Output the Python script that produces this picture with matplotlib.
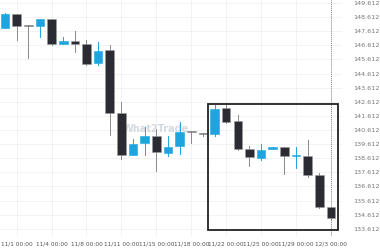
import matplotlib
matplotlib.use("Agg")
import matplotlib.pyplot as plt
from matplotlib.patches import Rectangle

opens = [147.83, 148.81, 148.05, 147.98, 148.45, 146.72, 146.89, 146.72, 145.37, 146.27,
         141.81, 138.87, 139.68, 140.15, 139.01, 139.51, 140.51, 140.40, 140.34, 142.18,
         141.22, 139.28, 138.61, 139.23, 139.44, 138.77, 138.80, 137.43, 135.17]
highs = [148.90, 148.83, 148.05, 148.47, 148.47, 147.22, 147.62, 146.98, 146.82, 146.63,
         142.57, 139.96, 140.79, 140.65, 140.15, 141.15, 140.51, 140.40, 142.36, 142.36,
         141.70, 139.51, 139.63, 139.44, 139.44, 139.41, 139.91, 137.57, 135.17]
lows = [147.83, 146.98, 145.70, 147.19, 146.63, 146.72, 146.13, 145.20, 145.20, 140.23,
        138.52, 138.87, 138.87, 137.69, 138.80, 138.94, 139.66, 140.15, 140.22, 141.11,
        139.16, 138.09, 138.45, 139.23, 137.52, 137.91, 137.26, 135.05, 134.25]
closes = [148.83, 147.95, 147.98, 148.45, 146.72, 146.89, 146.72, 145.32, 146.22, 141.81,
          138.87, 139.65, 140.15, 139.04, 139.39, 140.47, 140.44, 140.33, 142.12, 141.17,
          139.28, 138.68, 139.16, 139.44, 138.80, 138.82, 137.43, 135.17, 134.34]

tick_labels = ["11/1 00:00", "11/4 00:00", "11/8 00:00", "11/11 00:00", "11/15 00:00",
               "11/18 00:00", "11/22 00:00", "11/25 00:00", "11/29 00:00", "12/3 00:00"]
price_ticks = [133.612 + k for k in range(17)]

# highlighted pattern zone (candle index range, price range)
box_x = [17.45, 28.6]
box_y = [133.54, 142.43]
now_index = 28

up_col = "#1ea5e0"
down_col = "#2b2b33"

fig = plt.figure(figsize=(3.8, 2.5), dpi=100)
ax = fig.add_axes([0.0, 0.056, 0.9, 0.944])

for i, (o, h, l, c) in enumerate(zip(opens, highs, lows, closes)):
    up = c >= o
    col = up_col if up else down_col
    wick = up_col if up else "#8a8a8a"
    ax.plot([i, i], [l, h], color=wick, lw=0.7, zorder=2)
    lo, hi = min(o, c), max(o, c)
    ax.add_patch(Rectangle((i - 0.37, lo), 0.74, max(hi - lo, 0.04),
                           facecolor=col, edgecolor="#9a9a9a" if not up else col,
                           lw=0.4, zorder=3))

ax.add_patch(Rectangle((box_x[0], box_y[0]), box_x[1] - box_x[0], box_y[1] - box_y[0],
                       fill=False, edgecolor="#222222", lw=1.3, zorder=4))
ax.axvline(now_index, color="#888888", lw=0.7, ls=(0, (1, 1)), zorder=1)

# watermark
ax.text(0.455, 0.455, "What2Trade", transform=ax.transAxes, fontsize=7,
        fontweight="bold", color="#d5dadf", ha="center", va="center", zorder=1)

ax.set_xlim(-0.43, 28.95)
ax.set_ylim(133.1, 149.82)
ax.set_xticks(range(1, 29, 3))
ax.set_xticklabels(tick_labels)
ax.set_yticks(price_ticks)
ax.set_yticklabels([f"{p:.3f}" for p in price_ticks])
ax.yaxis.tick_right()
ax.tick_params(axis="x", length=0, labelsize=4.2, labelcolor="#555555", pad=4)
ax.tick_params(axis="y", length=0, labelsize=4.6, labelcolor="#777777", pad=8)
ax.grid(color="#eeeeee", lw=0.5)
ax.set_axisbelow(True)
for s in ax.spines.values():
    s.set_visible(False)

fig.savefig("out.png", dpi=100)
